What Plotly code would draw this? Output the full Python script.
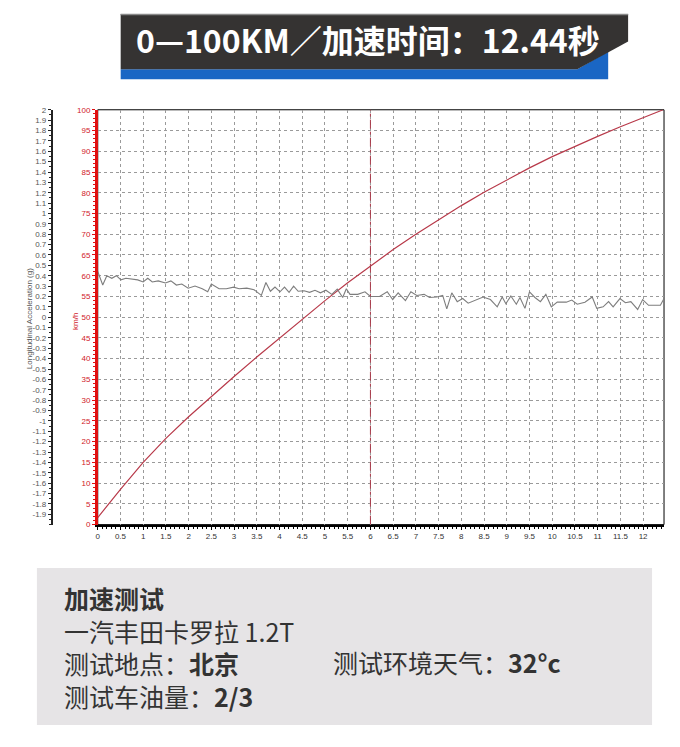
import plotly.graph_objects as go

# the page body keeps its 8px margin, so the figure is 16px smaller than the window
PAD = 8
W, H = 680 - 2 * PAD, 747 - 2 * PAD

# speed curve (km/h)
time_s = [0, 0.5, 1, 1.5, 2, 2.5, 3, 3.5, 4, 4.5, 5, 5.5, 6, 6.5, 7, 7.5, 8, 8.5,
          9, 9.5, 10, 10.5, 11, 11.5, 12, 12.44]
speed_kmh = [1.7, 8.5, 15.0, 20.8, 26.0, 30.9, 35.7, 40.4, 45.0, 49.5, 54.0, 58.3,
             62.4, 66.3, 70.0, 73.5, 76.9, 80.1, 83.1, 86.0, 88.7, 91.2, 93.6,
             95.9, 98.1, 100]

# longitudinal acceleration (g), grey trace
acc_time = [0.00, 0.11, 0.20, 0.31, 0.41, 0.51, 0.62, 0.76, 0.88, 1.00, 1.10, 1.20,
            1.33, 1.49, 1.61, 1.73, 1.85, 1.99, 2.14, 2.30, 2.42, 2.50, 2.67, 2.83,
            2.99, 3.11, 3.28, 3.44, 3.60, 3.70, 3.80, 3.90, 4.01, 4.11, 4.21, 4.31,
            4.41, 4.54, 4.66, 4.78, 4.90, 5.02, 5.15, 5.27, 5.39, 5.47, 5.55, 5.72,
            5.88, 6.00, 6.20, 6.37, 6.49, 6.61, 6.77, 6.89, 7.02, 7.18, 7.30, 7.46,
            7.59, 7.68, 7.79, 7.91, 8.03, 8.15, 8.32, 8.48, 8.64, 8.79, 8.90, 8.98,
            9.09, 9.21, 9.29, 9.40, 9.50, 9.62, 9.74, 9.86, 9.98, 10.11, 10.31, 10.43,
            10.55, 10.72, 10.88, 10.98, 11.12, 11.24, 11.34, 11.49, 11.61, 11.73,
            11.88, 11.99, 12.12, 12.24, 12.38, 12.46]
acc_g = [0.44, 0.31, 0.40, 0.375, 0.40, 0.36, 0.375, 0.365, 0.36, 0.34, 0.375, 0.34,
         0.35, 0.33, 0.35, 0.31, 0.32, 0.28, 0.30, 0.275, 0.245, 0.32, 0.275, 0.275,
         0.29, 0.275, 0.28, 0.265, 0.21, 0.335, 0.25, 0.29, 0.245, 0.29, 0.24, 0.30,
         0.25, 0.255, 0.24, 0.26, 0.235, 0.26, 0.22, 0.27, 0.19, 0.275, 0.22, 0.22,
         0.245, 0.20, 0.20, 0.245, 0.17, 0.235, 0.16, 0.245, 0.21, 0.22, 0.19, 0.195,
         0.21, 0.08, 0.235, 0.15, 0.18, 0.135, 0.17, 0.195, 0.17, 0.10, 0.195, 0.13,
         0.205, 0.125, 0.19, 0.085, 0.245, 0.19, 0.15, 0.22, 0.10, 0.145, 0.145, 0.165,
         0.125, 0.145, 0.195, 0.085, 0.10, 0.15, 0.10, 0.18, 0.14, 0.15, 0.075,
         0.17, 0.115, 0.115, 0.115, 0.18]

marker_time = 6
x_ticks = [i * 0.5 for i in range(25)]
kmh_ticks = [i * 5 for i in range(21)]
g_ticks = [round(2 - 0.1 * i, 1) for i in range(40)]

banner_text = "<b>0—100KM／加速时间：12.44秒</b>"
info_lines = ["<b>加速测试</b>",
              "一汽丰田卡罗拉 1.2T",
              "测试地点：<b>北京</b>",
              "测试车油量：<b>2/3</b>"]
info_right = "测试环境天气：<b>32°c</b>"


def px(x, y):
    # window pixel -> paper coords
    return (x - PAD) / W, 1 - (y - PAD) / H


def path(points):
    pts = [px(x, y) for x, y in points]
    return "M " + " L ".join(f"{a:.4f},{b:.4f}" for a, b in pts) + " Z"


x0, x1 = px(96, 0)[0], px(664, 0)[0]
yb, yt = px(0, 527)[1], px(0, 107)[1]

fig = go.Figure()
fig.add_trace(go.Scatter(x=acc_time, y=acc_g, mode='lines', yaxis='y2',
                         line=dict(color='#7d7d7d', width=1.1), showlegend=False))
fig.add_trace(go.Scatter(x=time_s, y=speed_kmh, mode='lines',
                         line=dict(color='#b83a4a', width=1.2), showlegend=False))

tick_font = dict(family='Liberation Sans, Arial', size=8)

fig.update_layout(
    width=W, height=H,
    margin=dict(l=0, r=0, t=0, b=0),
    paper_bgcolor='white', plot_bgcolor='white',
    xaxis=dict(domain=[x0, x1], range=[0, 12.46], tickvals=x_ticks,
               ticktext=[f"{v:g}" for v in x_ticks], tickfont=dict(tick_font, color='#333'),
               showgrid=True, gridcolor='#9a9a9a', griddash='dot', gridwidth=1,
               showline=True, linecolor='black', linewidth=2, zeroline=False,
               ticks='outside', ticklen=3, tickcolor='black',
               minor=dict(dtick=0.1, ticks='outside', ticklen=2, tickcolor='black')),
    yaxis=dict(domain=[yb, yt], range=[0, 100], tickvals=kmh_ticks,
               tickfont=dict(tick_font, color='#d0202a'),
               showgrid=True, gridcolor='#9a9a9a', griddash='dot', gridwidth=1,
               showline=True, linecolor='#e01010', linewidth=2.5, zeroline=False,
               ticks='outside', ticklen=3, tickcolor='#e01010',
               minor=dict(dtick=1, ticks='outside', ticklen=2, tickcolor='#e01010')),
    yaxis2=dict(overlaying='y', anchor='free', position=px(50, 0)[0], side='left',
                range=[-2, 2], tickvals=g_ticks, ticktext=[f"{v:g}" for v in g_ticks],
                tickfont=dict(tick_font, color='#555'), showgrid=False, zeroline=False,
                showline=True, linecolor='#222', linewidth=2,
                ticks='outside', ticklen=3, tickcolor='#222',
                minor=dict(dtick=0.05, ticks='outside', ticklen=2, tickcolor='#222')),
)

shapes = [
    # plot frame
    dict(type='rect', xref='paper', yref='paper', x0=x0, x1=x1, y0=yb, y1=yt,
         line=dict(color='black', width=1), layer='below'),
    # 6 s marker
    dict(type='line', xref='x', yref='paper', x0=marker_time, x1=marker_time, y0=yb, y1=yt,
         line=dict(color='#a83848', width=1, dash='dashdot')),
    # banner
    dict(type='path', xref='paper', yref='paper',
         path=path([(119, 66), (577, 66), (608, 48), (608, 76), (119, 76)]),
         fillcolor='#1a66c4', line=dict(width=0)),
    dict(type='path', xref='paper', yref='paper',
         path=path([(119, 10), (628, 10), (628, 38), (577, 66), (119, 66)]),
         fillcolor='#353332', line=dict(width=0)),
    dict(type='line', xref='paper', yref='paper', x0=px(119, 0)[0], x1=px(628, 0)[0],
         y0=px(0, 10.5)[1], y1=px(0, 10.5)[1], line=dict(color='#8a8a8a', width=1.5)),
    # info box
    dict(type='rect', xref='paper', yref='paper', x0=px(35, 0)[0], x1=px(652, 0)[0],
         y0=px(0, 730)[1], y1=px(0, 571)[1], fillcolor='#e6e4e6', line=dict(width=0),
         layer='below'),
]
fig.update_layout(shapes=shapes)

info_font = dict(family='Noto Sans CJK SC', size=25, color='#333')
ann = [
    dict(text=banner_text, x=px(367, 0)[0], y=px(0, 35)[1], showarrow=False,
         xref='paper', yref='paper', xanchor='center', yanchor='middle',
         font=dict(family='Noto Sans CJK SC', size=32, color='white')),
    dict(text='Longitudinal Acceleration (g)', textangle=-90, x=px(27, 0)[0],
         y=px(0, 318)[1], showarrow=False, xref='paper', yref='paper',
         xanchor='center', yanchor='middle',
         font=dict(family='Liberation Sans, Arial', size=8, color='#555')),
    dict(text='km/h', textangle=-90, x=px(73, 0)[0], y=px(0, 321)[1], showarrow=False,
         xref='paper', yref='paper', xanchor='center', yanchor='middle',
         font=dict(family='Liberation Sans, Arial', size=8, color='#d0202a')),
    # left column of the info box as one block
    dict(text="<br>".join(info_lines), x=px(60, 0)[0], y=px(0, 650.5)[1],
         showarrow=False, xref='paper', yref='paper', xanchor='left', yanchor='middle',
         align='left', font=info_font),
    dict(text=info_right, x=px(330, 0)[0], y=px(0, 666.6)[1], showarrow=False,
         xref='paper', yref='paper', xanchor='left', yanchor='middle', font=info_font),
]
fig.update_layout(annotations=ann)

fig.write_html("out.html")
